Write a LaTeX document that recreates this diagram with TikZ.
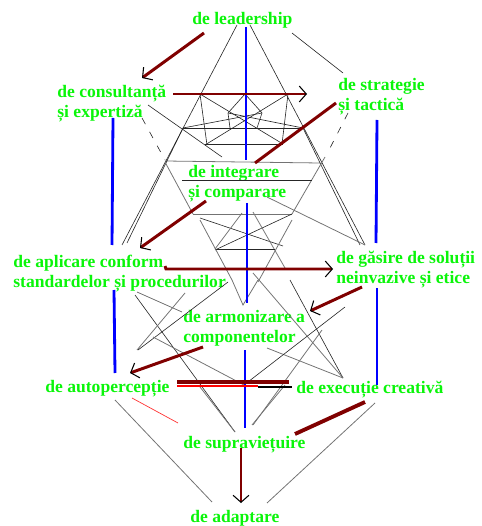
\documentclass[tikz,border=0pt]{standalone}
\usepackage{fontspec}
\setmainfont{Liberation Serif}
\usetikzlibrary{arrows.meta}

\definecolor{lime}{RGB}{10,245,10}
\definecolor{maroon}{RGB}{128,0,0}
\definecolor{bluebar}{RGB}{0,0,255}

\tikzset{
  lbl/.style={text=lime, font=\fontsize{10}{11.3}\selectfont\bfseries, align=left, inner sep=0pt, anchor=north west},
  mesh/.style={black!85, line width=0.35pt},
  meshgray/.style={black!55, line width=0.45pt},
  vbar/.style={bluebar, line width=1.6pt},
  redarrow/.style={maroon, line width=1.7pt, -{Straight Barb[black, length=4pt, width=9pt, line width=0.6pt]}},
  redline/.style={maroon, line width=1.7pt},
}

\begin{document}
\begin{tikzpicture}[x=0.02cm, y=-0.02cm]
    \useasboundingbox (0,0) rectangle (481,526);

    \node[lbl] (lead)   at (192,12)  {de leadership};
    \node[lbl] (cons)   at (57,85)   {de consultanță\\și expertiză};
    \node[lbl] (strat)  at (338,78)  {de strategie\\și tactică};
    \node[lbl] (integ)  at (188,165) {de integrare\\și comparare};
    \node[lbl] (aplic)  at (13,255)  {de aplicare conform\\standardelor și procedurilor};
    \node[lbl] (gasire) at (336,251) {de găsire de soluții\\neinvazive și etice};
    \node[lbl] (armon)  at (183,310) {de armonizare a\\componentelor};
    \node[lbl] (autop)  at (45,380)  {de autopercepție};
    \node[lbl] (exec)   at (296,381) {de execuție creativă};
    \node[lbl] (supr)   at (183,436) {de supraviețuire};
    \node[lbl] (adapt)  at (190,510) {de adaptare};

    % points of the mesh
    \coordinate (leadL) at (237,25);
    \coordinate (leadR) at (250,25);
    \coordinate (aplicT) at (122,245);
    \coordinate (gasireT) at (365,245);
    \coordinate (p1) at (200,94);
    \coordinate (p2) at (288,94);
    \coordinate (pc) at (245,94);
    \coordinate (q1) at (193,214);
    \coordinate (q2) at (292,214);
    \coordinate (v) at (243,305);
    \coordinate (execT) at (343,378);
    \coordinate (mid) at (244,385);
    \coordinate (suprT) at (235,432);

    % upper mesh
    \draw[mesh] (leadL) -- (aplicT);
    \draw[mesh] (leadR) -- (gasireT);
    \draw[mesh] (292,33) -- (343,73);
    \draw[mesh] (148,105) -- (222,157);
    \draw[mesh] (183,128) -- (303,128);
    \draw[mesh] (205,144) -- (283,144);
    \draw[meshgray] (165,161) -- (320,163);
    \draw[mesh] (p1) -- (207,145);
    \draw[mesh] (p1) -- (283,144);
    \draw[mesh] (p2) -- (205,145);
    \draw[mesh] (p2) -- (282,144);
    \draw[mesh] (pc) -- (228,113) -- (230,128);
    \draw[mesh] (pc) -- (262,113) -- (257,128);
    \draw[mesh] (183,128) -- (262,113);
    \draw[mesh] (303,128) -- (228,113);
    \draw[mesh] (183,128) -- (127,243);
    \draw[mesh] (303,128) -- (360,245);
    \draw[mesh, dash pattern=on 4pt off 5pt] (142,118) -- (165,160);
    \draw[mesh, dash pattern=on 4pt off 5pt] (348,113) -- (330,148);
    \draw[meshgray] (165,162) -- (q1);
    \draw[meshgray] (325,157) -- (q2);

    % middle mesh
    \draw[mesh] (182,180) -- (312,180);
    \draw[meshgray] (q1) -- (q2);
    \draw[meshgray] (267,197) -- (gasireT);
    \draw[mesh] (q2) -- (215,250);
    \draw[mesh] (200,218) -- (283,246);
    \draw[meshgray] (242,213) -- (215,249);
    \draw[meshgray] (253,212) -- (285,268);
    \draw[mesh] (215,249) -- (275,249);
    \draw[meshgray] (200,220) -- (232,280);
    \draw[meshgray] (292,220) -- (258,282);
    \draw[meshgray] (232,280) -- (v) -- (258,280);

    % lower mesh
    \draw[meshgray] (137,292) -- (182,312);
    \draw[mesh] (135,295) -- (suprT);
    \draw[meshgray] (185,293) -- (137,350);
    \draw[mesh] (228,282) -- (138,350);
    \draw[meshgray] (153,337) -- (mid);
    \draw[meshgray] (267,348) -- (execT);
    \draw[mesh] (290,280) -- (execT);
    \draw[meshgray] (253,273) -- (execT);
    \draw[mesh] (345,307) -- (mid);
    \draw[meshgray] (322,330) -- (253,425);
    \draw[meshgray] (200,387) -- (suprT);
    \draw[meshgray] (285,385) -- (252,425);
    \draw[meshgray] (115,400) -- (212,502);
    \draw[meshgray] (375,403) -- (267,503);

    % blue bars
    \draw[vbar] (246,27) -- (246,160);
    \draw[vbar] (247,203) -- (247,303);
    \draw[vbar] (245,350) -- (245,428);
    \draw[vbar] (113,118) -- (112,245);
    \draw[vbar] (114,290) -- (115,373);
    \draw[vbar] (377,120) -- (376,243);
    \draw[vbar] (377,288) -- (377,385);

    % red arrows
    \draw[redarrow] (204,33) -- (142,78);
    \draw[redarrow] (173,94) -- (307,94);
    \draw[redline] (336,103) -- (255,163);
    \draw[redarrow] (206,201) -- (140,248);
    \draw[redarrow] (165,266) -- (166,269) -- (333,269);
    \draw[redarrow] (362,287) -- (310,311);
    \draw[redarrow] (203,347) -- (130,373);
    \draw[maroon, line width=1.8pt] (177,382) -- (289,382);
    \draw[red, line width=0.6pt] (177,386) -- (258,386);
    \draw[black, line width=0.6pt] (258,387) -- (292,387);
    \draw[red!80, line width=0.4pt] (132,398) -- (178,423);
    \draw[maroon, line width=2.2pt] (365,402) -- (295,434);
    \draw[redarrow] (241,448) -- (241,503);

\end{tikzpicture}
\end{document}
